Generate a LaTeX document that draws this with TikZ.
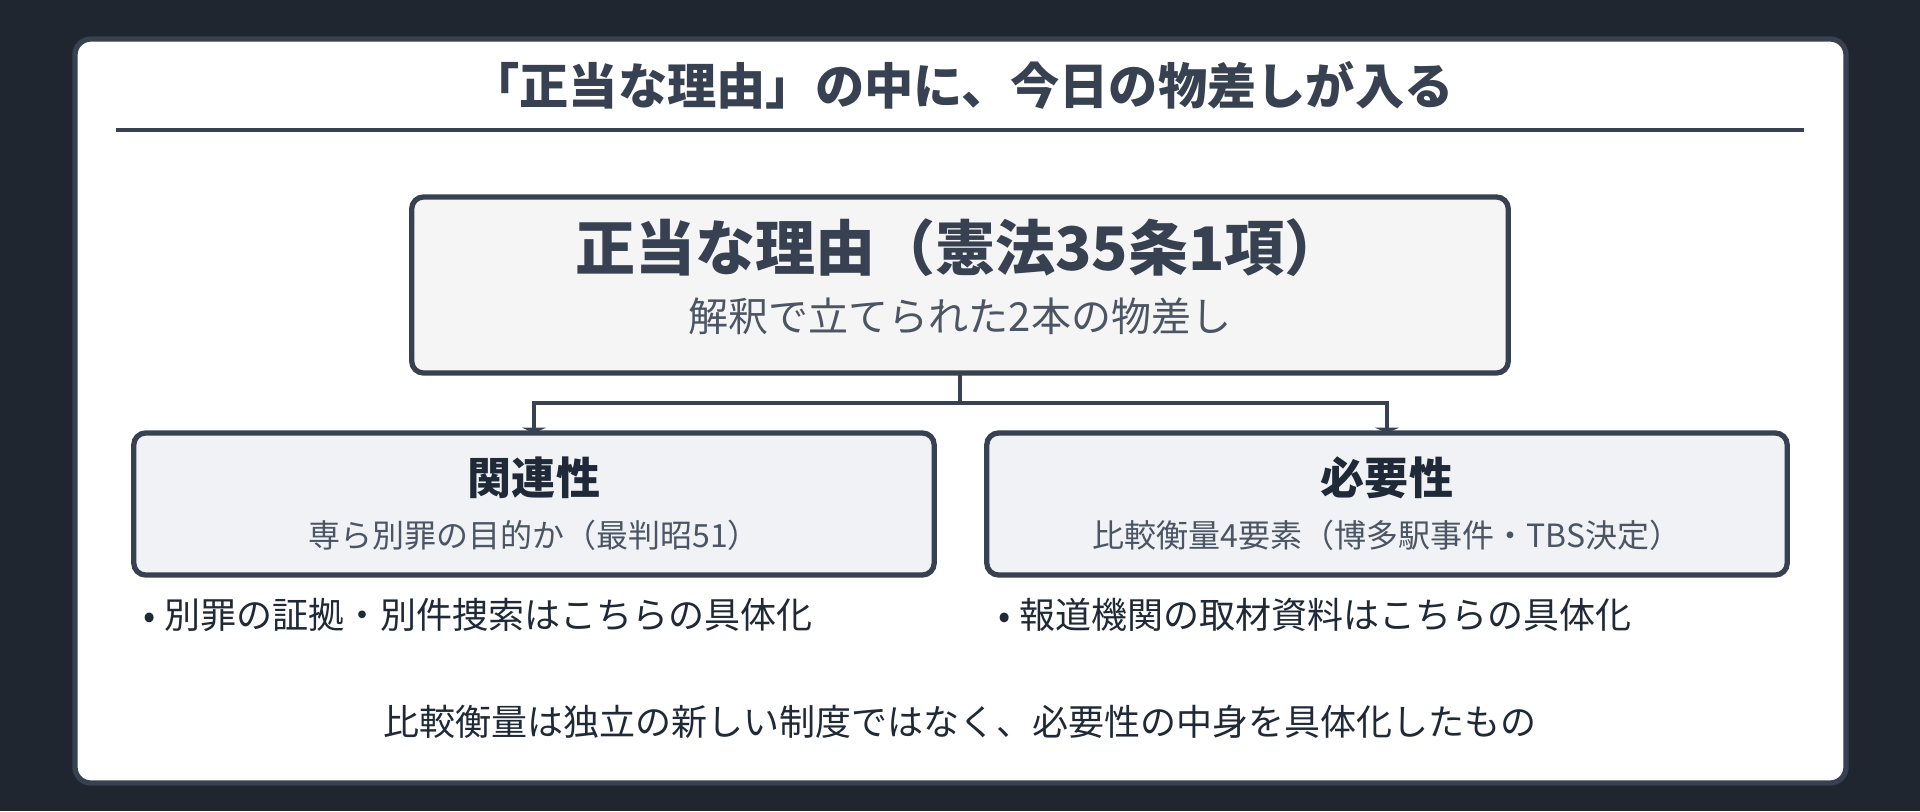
\documentclass[tikz,border=0pt]{standalone}
\usepackage{fontspec}
\setmainfont{Noto Sans CJK JP}
\usetikzlibrary{arrows.meta}
\definecolor{bgdark}{HTML}{1F2630}
\definecolor{slate}{HTML}{374151}
\definecolor{ink}{HTML}{1F2937}
\definecolor{subgray}{HTML}{4B5563}
\definecolor{topfill}{HTML}{F5F5F5}
\definecolor{childfill}{HTML}{F0F2F5}
\begin{document}
\begin{tikzpicture}[x=0.01cm,y=-0.01cm,
        box/.style={draw=slate,line width=1.5pt,rounded corners=3.4pt,inner sep=0pt,outer sep=0pt},
        conn/.style={draw=slate,line width=0.95pt},
        tip/.style={-{Triangle[width=6.8pt,length=1.5pt]}},
        txt/.style={inner sep=0pt}]
    \fill[bgdark] (0,0) rectangle (1920,811);
    \useasboundingbox (0,0) rectangle (1920,811);
    \draw[slate,fill=white,line width=1.5pt,rounded corners=4.5pt] (75,39) rectangle (1846,783);

    \node[txt,text=slate,font=\bfseries\fontsize{14}{16}\selectfont] (title) at (962,85) {「正当な理由」の中に、今日の物差しが入る};
    \draw[slate,line width=1pt] (116,130) -- (1804,130);

    \node[box,fill=topfill,minimum width=10.96cm,minimum height=1.76cm] (reason) at (960,285) {};
    \node[txt,text=slate,font=\bfseries\fontsize{17.07}{20}\selectfont] (reasonT) at (960,248) {正当な理由（憲法35条1項）};
    \node[txt,text=subgray,font=\fontsize{11.38}{14}\selectfont] (reasonS) at (960,316) {解釈で立てられた2本の物差し};

    \foreach \n/\x/\h/\s in {relev/534/関連性/専ら別罪の目的か（最判昭51）,
                             need/1387/必要性/比較衡量4要素（博多駅事件・TBS決定）}{
        \node[box,fill=childfill,minimum width=8cm,minimum height=1.42cm] (\n) at (\x,504) {};
        \node[txt,text=ink,font=\bfseries\fontsize{12.52}{15}\selectfont] (\n T) at (\x,478) {\h};
        \node[txt,text=subgray,font=\fontsize{9.1}{11}\selectfont] (\n S) at (\x,535) {\s};
    }

    \coordinate (fork) at (960,403);
    \draw[conn] (reason.south) -- (fork);
    \draw[conn,tip] (fork) -| (relev.north);
    \draw[conn,tip] (fork) -| (need.north);

    \node[txt,anchor=west,text=ink,font=\fontsize{10.24}{12}\selectfont] (relevB) at (143,615) {• 別罪の証拠・別件捜索はこちらの具体化};
    \node[txt,anchor=west,text=ink,font=\fontsize{10.24}{12}\selectfont] (needB) at (998,615) {• 報道機関の取材資料はこちらの具体化};

    \node[txt,text=ink,font=\fontsize{10.24}{12}\selectfont] (summary) at (960,722) {比較衡量は独立の新しい制度ではなく、必要性の中身を具体化したもの};
\end{tikzpicture}
\end{document}
